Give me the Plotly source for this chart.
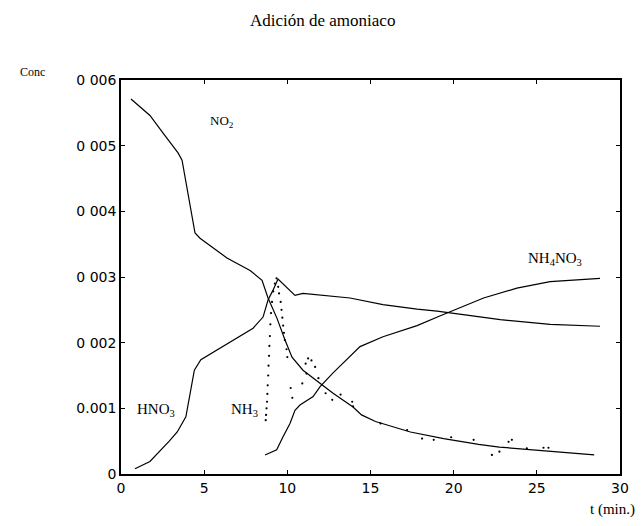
import plotly.graph_objects as go

# ---- data ----
no2_t = [0.6, 1.74, 2.53, 3.43, 3.67, 3.97, 4.27, 4.45, 4.75, 6.37, 7.76, 8.48, 8.84,
         9.38, 9.86, 10.28, 10.94, 12.09, 12.75, 13.95, 14.46, 15.3, 17.4, 19.4, 21.5,
         22.75, 24.6, 26.3, 28.45]
no2_c = [0.00571, 0.00546, 0.00519, 0.00489, 0.00478, 0.00437, 0.00391, 0.00367, 0.00359,
         0.00329, 0.00310, 0.00295, 0.00268, 0.00237, 0.00204, 0.00178, 0.00158, 0.00135,
         0.00123, 0.00102, 0.00090, 0.00080, 0.00064, 0.00054, 0.00045, 0.00041, 0.00037,
         0.00034, 0.00029]

hno3_t = [0.84, 1.74, 2.9, 3.38, 3.9, 4.2, 4.41, 4.8, 5.95, 6.98, 7.94, 8.54, 8.84, 9.14,
          9.44, 10.46, 10.94, 13.77, 15.75, 17.8, 19.0, 20.8, 22.8, 25.8, 28.8]
hno3_c = [0.00008, 0.00019, 0.00050, 0.00064, 0.00087, 0.00128, 0.00158, 0.00174, 0.00192,
          0.00207, 0.00222, 0.00239, 0.00265, 0.00280, 0.00297, 0.00272, 0.00275, 0.00268,
          0.00258, 0.00251, 0.00248, 0.00242, 0.00235, 0.00228, 0.00225]

nh4no3_t = [8.66, 9.36, 9.75, 10.16, 10.46, 10.76, 11.55, 11.97, 12.75, 14.37, 15.75, 17.8,
            19.2, 19.8, 21.8, 23.8, 25.8, 28.8]
nh4no3_c = [0.00029, 0.00037, 0.00057, 0.00077, 0.00097, 0.00105, 0.00118, 0.00133, 0.00154,
            0.00194, 0.00209, 0.00226, 0.00241, 0.00247, 0.00268, 0.00283, 0.00293, 0.00298]

nh3_t = [8.70, 8.72, 8.75, 8.78, 8.80, 8.82, 8.85, 8.87, 8.90, 8.92, 8.95, 8.98, 9.02, 9.08,
         9.15, 9.25, 9.35, 9.45, 9.50, 9.60, 9.65, 9.70, 9.75, 9.80, 9.85, 9.95, 10.0, 10.2,
         10.3, 10.9, 11.15, 11.25, 11.45, 11.67, 11.1, 11.87, 12.3, 12.7, 13.2, 13.9, 13.95,
         15.6, 17.2, 18.1, 18.8, 19.85, 21.2, 22.3, 22.75, 23.3, 23.5, 24.4, 25.4, 25.7]
nh3_c = [0.00082, 0.00090, 0.00100, 0.00110, 0.00122, 0.00135, 0.00150, 0.00165, 0.00180,
         0.00195, 0.00210, 0.00228, 0.00245, 0.00262, 0.00278, 0.00290, 0.00298, 0.00285,
         0.00275, 0.00262, 0.00250, 0.00238, 0.00226, 0.00215, 0.00204, 0.00190, 0.00178,
         0.00131, 0.00116, 0.00138, 0.00153, 0.00176, 0.00173, 0.00163, 0.00168, 0.00146,
         0.00123, 0.00113, 0.00121, 0.00110, 0.00103, 0.00077, 0.00067, 0.00054, 0.00052,
         0.00056, 0.00052, 0.00029, 0.00034, 0.00049, 0.00052, 0.00039, 0.00040, 0.00040]

x_ticks = [0, 5, 10, 15, 20, 25, 30]
y_ticks = [0, 0.001, 0.002, 0.003, 0.004, 0.005, 0.006]
y_tick_text = ["0", "0.001", "0 002", "0 003", "0 004", "0 005", "0 006"]

labels = [("NO<sub>2</sub>", 6.1, 0.00537, 13),
          ("HNO<sub>3</sub>", 2.1, 0.00097, 15),
          ("NH<sub>3</sub>", 7.4, 0.00097, 15),
          ("NH<sub>4</sub>NO<sub>3</sub>", 26.1, 0.00327, 15)]

fig = go.Figure()
line_style = dict(color="black", width=1.2)
fig.add_trace(go.Scatter(x=no2_t, y=no2_c, mode="lines", line=line_style, name="NO2"))
fig.add_trace(go.Scatter(x=hno3_t, y=hno3_c, mode="lines", line=line_style, name="HNO3"))
fig.add_trace(go.Scatter(x=nh4no3_t, y=nh4no3_c, mode="lines", line=line_style, name="NH4NO3"))
fig.add_trace(go.Scatter(x=nh3_t, y=nh3_c, mode="markers",
                         marker=dict(color="black", size=2.2), name="NH3"))

serif = "Liberation Serif, Times New Roman, serif"
for text, tx, ty, fs in labels:
    fig.add_annotation(x=tx, y=ty, xref="x", yref="y", text=text, showarrow=False,
                       xanchor="center", yanchor="middle",
                       font=dict(family=serif, size=fs, color="black"))

fig.add_annotation(x=0.403, y=1.152, xref="paper", yref="paper", text="Adición de amoniaco",
                   showarrow=False, xanchor="center", yanchor="middle",
                   font=dict(family=serif, size=17, color="black"))
fig.add_annotation(x=-0.178, y=1.02, xref="paper", yref="paper", text="Conc",
                   showarrow=False, xanchor="center", yanchor="middle",
                   font=dict(family=serif, size=12, color="black"))
fig.add_annotation(x=0.985, y=-0.091, xref="paper", yref="paper", text="t (min.)",
                   showarrow=False, xanchor="center", yanchor="middle",
                   font=dict(family=serif, size=15, color="black"))

axis_common = dict(showline=True, linecolor="black", linewidth=1.5, mirror="ticks",
                   ticks="inside", ticklen=4, tickcolor="black", tickwidth=1,
                   showgrid=False, zeroline=False,
                   tickfont=dict(family="DejaVu Sans", size=14, color="black"))

fig.update_xaxes(range=[0, 30], tickvals=x_ticks, **axis_common)
fig.update_yaxes(range=[0, 0.006], tickvals=y_ticks, ticktext=y_tick_text, **axis_common)

# page body has an 8px margin; size the figure so the plot box lands where the reference has it
fig.update_layout(width=635, height=518, autosize=False,
                  margin=dict(l=113, r=23, t=72, b=52),
                  paper_bgcolor="white", plot_bgcolor="white", showlegend=False)

fig.write_html("out.html")
